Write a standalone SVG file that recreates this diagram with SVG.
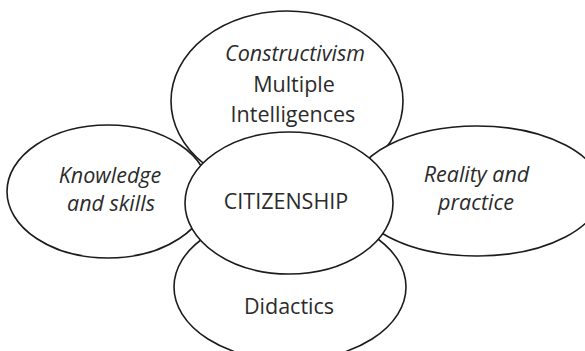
<svg xmlns="http://www.w3.org/2000/svg" width="585" height="351" viewBox="0 0 585 351">
  <style>
    .petal { fill: #ffffff; stroke: #1c1c1c; stroke-width: 1.6; }
    .label { font-family: "Open Sans", "Noto Sans", "Liberation Sans", sans-serif; font-size: 21.5px; fill: #2b2b2b; text-anchor: middle; }
    .it { font-style: italic; }
  </style>
  <rect width="585" height="351" fill="#ffffff"/>

  <!-- outer petals: top and bottom sit underneath the side petals -->
  <g id="node-theory">
    <ellipse class="petal" cx="287" cy="101" rx="116" ry="90"/>
    <text class="label it" x="295" y="61">Constructivism</text>
    <text class="label" x="294" y="92">Multiple</text>
    <text class="label" x="293" y="122">Intelligences</text>
  </g>

  <g id="node-didactics">
    <ellipse class="petal" cx="290" cy="287" rx="116" ry="73.5"/>
    <text class="label" x="289" y="314">Didactics</text>
  </g>

  <g id="node-knowledge">
    <ellipse class="petal" cx="108" cy="191.5" rx="101" ry="66.5"/>
    <text class="label it" x="110" y="183">Knowledge</text>
    <text class="label it" x="111" y="210.5">and skills</text>
  </g>

  <g id="node-reality">
    <ellipse class="petal" cx="477" cy="191" rx="125" ry="65"/>
    <text class="label it" x="476.5" y="181.5">Reality and</text>
    <text class="label it" x="476" y="210">practice</text>
  </g>

  <!-- central petal drawn last so it covers the overlaps -->
  <g id="node-citizenship">
    <ellipse class="petal" cx="289" cy="203" rx="104" ry="71"/>
    <text class="label" x="286" y="209">CITIZENSHIP</text>
  </g>

  <g id="connectors"></g>
</svg>
